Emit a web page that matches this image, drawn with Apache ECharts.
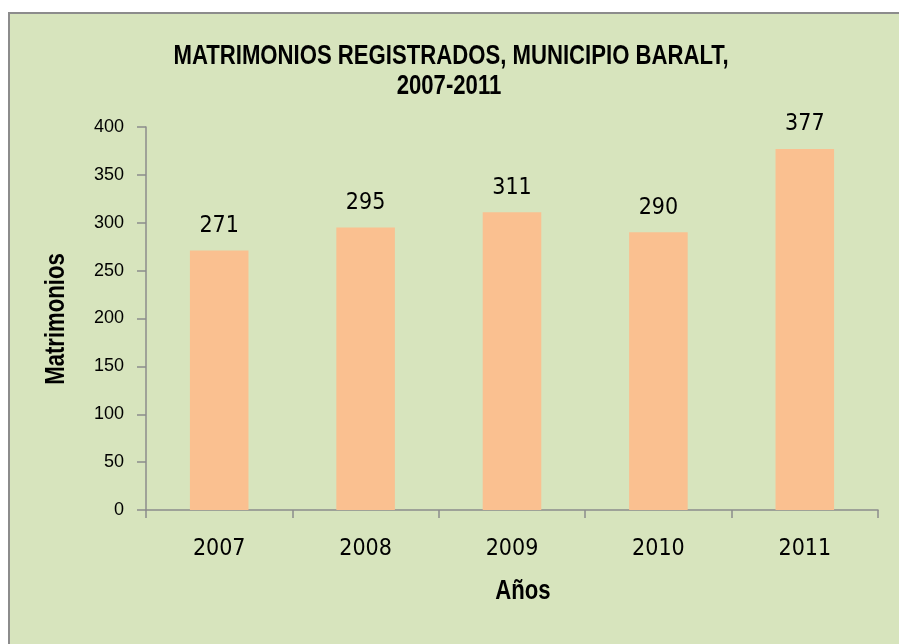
<!DOCTYPE html>
<html>
<head>
<meta charset="utf-8">
<script src="https://cdn.jsdelivr.net/npm/echarts@6/dist/echarts.min.js"></script>
<style>
html,body{margin:0;padding:0;background:#ffffff;}
#chart{width:899px;height:644px;}
</style>
</head>
<body>
<div id="chart"></div>
<script>
const categories = ['2007', '2008', '2009', '2010', '2011'];
const matrimonios = [271, 295, 311, 290, 377];
const yTicks = [0, 50, 100, 150, 200, 250, 300, 350, 400];
const titleLines = ['MATRIMONIOS REGISTRADOS, MUNICIPIO BARALT,', '2007-2011'];
const xName = 'Años';
const yName = 'Matrimonios';

const narrow = "'DejaVu Sans Condensed', 'Liberation Sans Narrow', 'Arial Narrow', sans-serif";
const regular = "'Liberation Sans', Arial, sans-serif";
const boldFont = "bold 27px 'Liberation Sans', Arial, sans-serif";

function narrowText(text, x, y, rotation) {
  return {
    type: 'text',
    x: x, y: y,
    rotation: rotation || 0,
    scaleX: 0.82,
    style: {
      text: text,
      font: boldFont,
      fill: '#000000',
      align: 'center',
      verticalAlign: 'middle'
    }
  };
}

const chart = echarts.init(document.getElementById('chart'));
chart.setOption({
  animation: false,
  backgroundColor: '#ffffff',
  graphic: [{
    type: 'rect',
    z: -10,
    shape: { x: 9, y: 13, width: 920, height: 660 },
    style: { fill: '#D7E4BD', stroke: '#8C8C8C', lineWidth: 2 }
  },
  narrowText(titleLines[0], 451, 57),
  narrowText(titleLines[1], 449, 87),
  narrowText(xName, 523, 592),
  narrowText(yName, 57, 319, Math.PI / 2)
  ],
  grid: { left: 146, right: 21, top: 127, bottom: 134, containLabel: false },
  xAxis: {
    type: 'category',
    data: categories,
    axisLine: { lineStyle: { color: '#8C8C8C', width: 1.5 } },
    axisTick: { show: true, alignWithLabel: false, length: 8, lineStyle: { color: '#8C8C8C', width: 1.5 } },
    axisLabel: { margin: 28, fontFamily: narrow, fontSize: 23, color: '#000' }
  },
  yAxis: {
    type: 'value',
    min: yTicks[0],
    max: yTicks[yTicks.length - 1],
    interval: yTicks[1] - yTicks[0],
    splitLine: { show: false },
    axisLine: { show: true, lineStyle: { color: '#8C8C8C', width: 1.5 } },
    axisTick: { show: true, length: 9, lineStyle: { color: '#8C8C8C', width: 1.5 } },
    axisLabel: { margin: 22, fontFamily: regular, fontSize: 18, color: '#000' }
  },
  series: [{
    type: 'bar',
    data: matrimonios,
    barWidth: '40%',
    itemStyle: { color: '#FAC090' },
    label: {
      show: true,
      position: 'top',
      distance: 13,
      fontFamily: narrow,
      fontSize: 23,
      color: '#000'
    }
  }]
});
</script>
</body>
</html>
